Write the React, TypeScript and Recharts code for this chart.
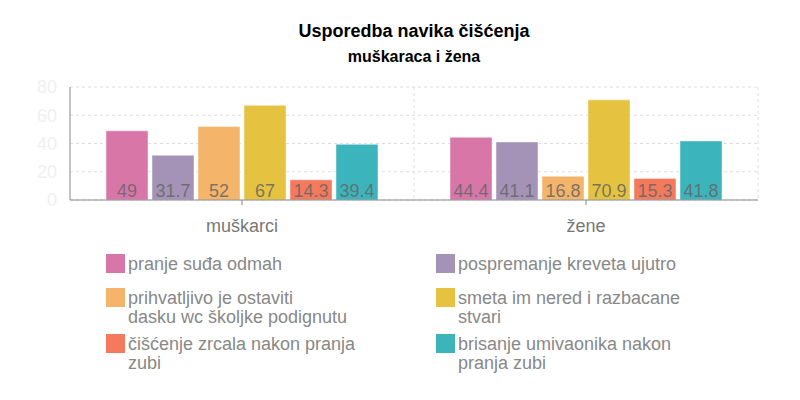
import { BarChart, Bar, XAxis, YAxis, CartesianGrid, LabelList } from "recharts";

const categories = ["muškarci", "žene"];

const seriesNames = [
  "pranje suđa odmah",
  "pospremanje kreveta ujutro",
  "prihvatljivo je ostaviti dasku wc školjke podignutu",
  "smeta im nered i razbacane stvari",
  "čišćenje zrcala nakon pranja zubi",
  "brisanje umivaonika nakon pranja zubi",
];

const pranjeSuda = [49, 44.4];
const pospremanjeKreveta = [31.7, 41.1];
const daskaPodignuta = [52, 16.8];
const smetaNered = [67, 70.9];
const ciscenjeZrcala = [14.3, 15.3];
const brisanjeUmivaonika = [39.4, 41.8];

const seriesValues = [
  pranjeSuda,
  pospremanjeKreveta,
  daskaPodignuta,
  smetaNered,
  ciscenjeZrcala,
  brisanjeUmivaonika,
];

const colors = ["#d976a8", "#a493b7", "#f4b469", "#e5c23f", "#f57a5d", "#3cb4bc"];

const yTicks = [0, 20, 40, 60, 80];

const data = categories.map((name, i) => {
  const row: Record<string, string | number> = { name };
  seriesValues.forEach((vals, s) => {
    row[`s${s}`] = vals[i];
  });
  return row;
});

const font = "'Liberation Sans', Arial, sans-serif";

// legend labels wrap by character count, like the original
function wrapLabel(text: string, max = 28) {
  const lines: string[] = [];
  let cur = "";
  text.split(" ").forEach((word) => {
    const next = cur ? `${cur} ${word}` : word;
    if (next.length > max && cur) {
      lines.push(cur);
      cur = word;
    } else {
      cur = next;
    }
  });
  if (cur) lines.push(cur);
  return lines;
}

export default function App() {
  return (
    <div
      style={{
        position: "absolute",
        left: 0,
        top: 0,
        width: 800,
        height: 400,
        background: "#fff",
        fontFamily: font,
      }}
    >
      <div
        style={{
          position: "absolute",
          top: 20,
          left: 0,
          width: 828,
          textAlign: "center",
          fontWeight: "bold",
          color: "#000",
        }}
      >
        <div style={{ fontSize: 18, lineHeight: "22px" }}>Usporedba navika čišćenja</div>
        <div style={{ fontSize: 16, lineHeight: "20px", marginTop: 5 }}>muškaraca i žena</div>
      </div>

      <div style={{ position: "absolute", left: 0, top: 0 }}>
        <BarChart
          width={800}
          height={240}
          data={data}
          margin={{ top: 87, right: 42, bottom: 0, left: 0 }}
          barCategoryGap={36}
          barGap={4}
        >
          <CartesianGrid
            stroke="#dddddd"
            strokeDasharray="3 3"
            verticalCoordinatesGenerator={({ offset }: any) => [
              offset.left + offset.width / 2,
              offset.left + offset.width,
            ]}
          />
          <XAxis
            dataKey="name"
            axisLine={{ stroke: "#888" }}
            tickLine={{ stroke: "#888" }}
            tickSize={5}
            tickMargin={14}
            height={40}
            tick={{ fill: "#777", fontSize: 18, fontFamily: font }}
          />
          <YAxis
            domain={[0, 80]}
            ticks={yTicks}
            width={70}
            axisLine={{ stroke: "#888" }}
            tickLine={false}
            tickMargin={7}
            tick={{ fill: "#f0f0f0", fontSize: 18, fontFamily: font }}
          />
          {seriesNames.map((name, s) => (
            <Bar
              key={name}
              dataKey={`s${s}`}
              name={name}
              fill={colors[s]}
              stroke="#ffffff"
              strokeOpacity={0.45}
              strokeWidth={1}
              isAnimationActive={false}
            >
              <LabelList
                dataKey={`s${s}`}
                position="insideBottom"
                offset={3}
                fill="#666"
                fillOpacity={0.85}
                fontSize={18}
                fontFamily={font}
              />
            </Bar>
          ))}
        </BarChart>
      </div>

      <div
        style={{
          position: "absolute",
          left: 106,
          top: 254,
          display: "grid",
          gridTemplateColumns: "330px 330px",
          gridTemplateRows: "34px 46px auto",
          fontSize: 18,
          lineHeight: "18.5px",
          color: "#888",
        }}
      >
        {seriesNames.map((name, s) => (
          <div key={name} style={{ display: "flex", alignItems: "flex-start" }}>
            <div
              style={{
                width: 19,
                height: 19,
                background: colors[s],
                flex: "none",
                marginRight: 3,
              }}
            />
            <div style={{ marginTop: 1, whiteSpace: "nowrap" }}>
              {wrapLabel(name).map((line) => (
                <div key={line}>{line}</div>
              ))}
            </div>
          </div>
        ))}
      </div>
    </div>
  );
}
